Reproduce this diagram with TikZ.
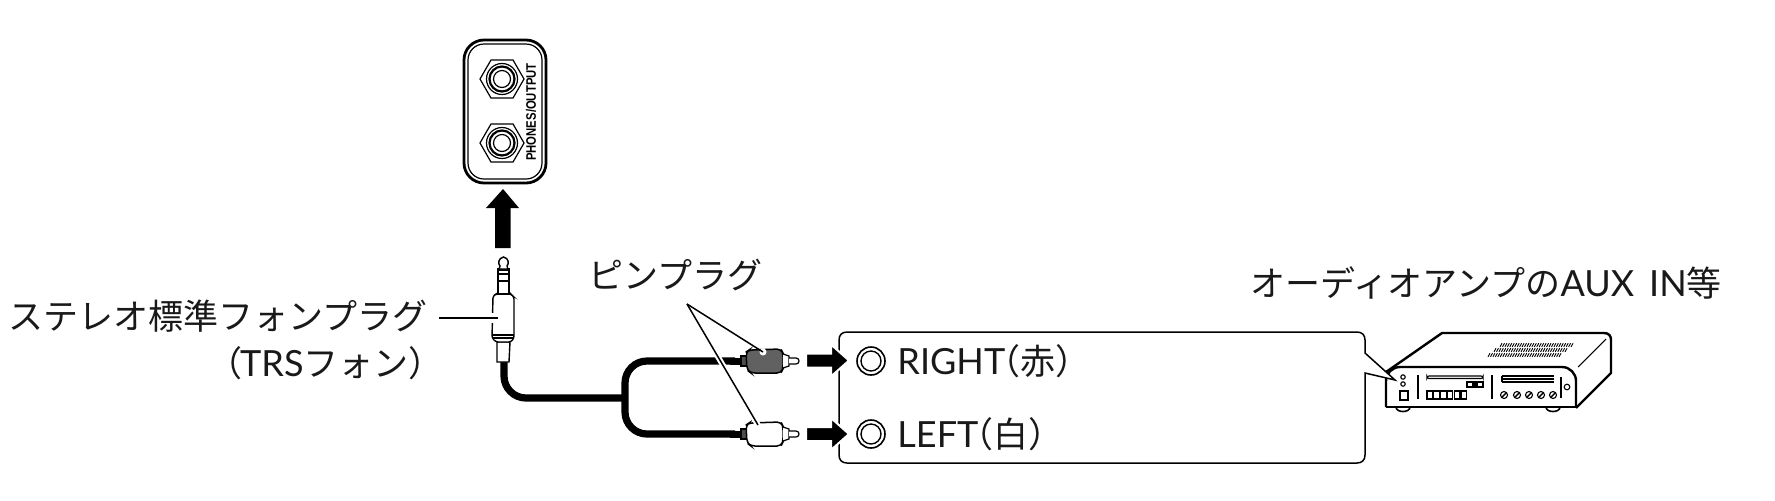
\documentclass[tikz,border=0pt]{standalone}
\usepackage{fontspec}
\setmainfont{Noto Sans CJK JP}
\newfontfamily\labelfont{Liberation Sans}
\newfontfamily\latfont{Lato}[Scale=1.03]
\usetikzlibrary{shapes.geometric}
\newcommand{\lat}[1]{{\latfont #1}}
\tikzset{
  x=0.5pt,y=-0.5pt,
  lbl/.style={font=\fontsize{17.5pt}{20pt}\selectfont,inner sep=0pt,text=black!90},
  leader/.style={line width=0.75pt},
  halo/.style={draw=white,line width=2.8pt},
  cable/.style={line width=3.6pt,rounded corners=11pt},
  bigarrow/.style={fill=black,draw=white,line width=1pt},
  thin part/.style={line width=0.6pt,fill=white},
  amp/.style={line width=1.2pt,line join=round},
  ampthin/.style={line width=0.55pt},
}
\newcommand{\rcaplug}[3]{% name, y, fill
  \coordinate (#1) at (747,#2);
  \fill[black] (730,#2-3.5) rectangle (742,#2+3.5);
  \draw[thin part,fill=black!70] (741,#2-5) rectangle (747,#2+5);
  \draw[line width=0.75pt,fill=#3,rounded corners=2pt] (746,#2-9) -- (749,#2-11) -- (781,#2-12) -- (783,#2-8) -- (783,#2+8) -- (781,#2+12) -- (751,#2+12) -- (747,#2+9) -- cycle;
  \draw[thin part] (783,#2-7) -- (789,#2-5) -- (789,#2+5) -- (783,#2+7);
  \draw[thin part] (789,#2-3) -- (796,#2-3) .. controls (800,#2-3) and (800,#2+3) .. (796,#2+3) -- (789,#2+3);
}
\newcommand{\jack}[2]{% name, y
  \node[regular polygon,regular polygon sides=6,draw,line width=0.6pt,minimum size=22pt,inner sep=0pt] (#1) at (502,#2) {};
  \draw[line width=0.6pt] (502,#2) circle (15.5);
  \draw[line width=1.1pt] (502,#2) circle (12.5);
  \draw[line width=0.6pt] (502,#2) circle (8.5);
}
\begin{document}
\begin{tikzpicture}
\useasboundingbox (0,0) rectangle (1775,500);
% phones panel
\draw[line width=1.4pt,rounded corners=10pt] (464,40) rectangle (546,183);
\draw[line width=0.6pt,rounded corners=8pt] (468,44) rectangle (542,179);
\jack{jackA}{79}
\jack{jackB}{143}
\node[rotate=90,inner sep=0pt,xscale=0.82,font=\fontsize{6.9pt}{7pt}\selectfont] (phlabel) at (531,112) {\labelfont\bfseries PHONES/OUTPUT};
% up arrow
\fill[black] (495,248) -- (495,208) -- (486,208) -- (503,189) -- (519,208) -- (510.5,208) -- (510.5,248) -- cycle;
% cable
\coordinate (plugend) at (504,358);
\coordinate (junction) at (625,398);
\coordinate (rtop) at (735,361);
\coordinate (lbot) at (735,434);
\draw[cable] (plugend) -- (504,398) -- (junction);
\draw[cable] (rtop) -- (625,361) -- (625,434) -- (lbot);
% 1/4 plug
\coordinate (plug) at (498,318);
\begin{scope}[line width=0.7pt]
\draw[fill=white] (497,362) -- (497,342) -- (510,342) -- (509,362) -- cycle;
\draw[fill=white,rounded corners=1.2pt] (493,296) -- (496,294) -- (511,294) -- (514,297) -- (514,338) -- (511,342) -- (496,342) -- (492,338) -- cycle;
\draw (492,335) -- (514,335); \draw[line width=1pt] (493,338) -- (513,338);
\draw[fill=white] (498,294) -- (498,269) -- (509,269) -- (509,294) -- cycle;
\draw[line width=1pt] (498,270) -- (509,270); \draw[line width=.9pt] (498,274) -- (509,274);
\draw[line width=.6pt] (498,281) -- (509,281);
\draw[fill=white] (499,269) -- (500,266) .. controls (498,264) and (498,258) .. (503.5,257) .. controls (509,258) and (509,264) .. (507,266) -- (508,269) -- cycle;
\end{scope}
\fill[white] (490,313) rectangle (495,323);
% plug label
\node[lbl,anchor=east] (stereo) at (428,316.5) {ステレオ標準フォンプラグ};
\node[lbl,anchor=east] (trs) at (444,363) {（\hspace{-1pt}\lat{TRS}フォン）\hspace{-8.5pt}};
\draw[leader] (439,318) -- (plug);
% RCA
\rcaplug{rcaR}{361}{black!62}
\rcaplug{rcaL}{434}{white}
% pin label
\node[lbl,anchor=center] (pin) at (675.5,275) {ピンプラグ};
\coordinate (apex) at (687,304);
\draw[halo] (apex) -- (758,425);
\fill[white] (763,352) circle (3.5);
\draw[leader] (apex) -- (763,352);
\draw[leader] (apex) -- (758,425);
% amp
\draw[amp,fill=white] (1386,372) -- (1442,333) -- (1604,333) .. controls (1609,333) and (1611,336) .. (1611,340) -- (1611,373) -- (1576,408);
\draw[amp,fill=white,rounded corners=7pt] (1386,407) -- (1386,367) -- (1576,367) -- (1576,407);
\draw[amp] (1386,407) -- (1576,407);
\foreach \fx in {1403,1553}{\draw[line width=.8pt] (\fx-7,407) .. controls (\fx-7,413) and (\fx+7,413) .. (\fx+7,407);}
\draw[ampthin] (1578,367) -- (1606,339);
\foreach \sx/\sy in {1500/345,1494/350,1488/355}{
  \foreach \i in {1,...,30}{\draw[line width=.45pt] ({\sx+(\i-1)*2.45},\sy+1.8) -- ({\sx+(\i-1)*2.45+2},\sy-1.8);}
}
\draw[ampthin] (1403,377) circle (2.2) (1403,384) circle (2.2);
\draw[ampthin] (1400,391) rectangle (1408,400);
\draw[line width=.9pt] (1400,391) -- (1400,400);
\draw[ampthin] (1418,375) -- (1418,399) (1492,375) -- (1492,399) (1561,377) -- (1561,398);
\draw[ampthin,rounded corners=1pt] (1427,376) rectangle (1483,378.5);
\draw[ampthin] (1467,382) rectangle (1483,387);
\fill (1472,382) rectangle (1478,387);
\foreach \i in {0,...,5}{\draw[ampthin] ({1427+\i*6.8},391) rectangle ({1432.5+\i*6.8},399);}
\draw[line width=.8pt] (1502,376) -- (1554,376) (1502,382) -- (1554,382);
\draw[ampthin] (1502,379) -- (1554,379) (1502,376) -- (1502,382);
\foreach \kx in {1504,1517,1529,1541,1553}{\draw[ampthin] (\kx,395) circle (3.5); \draw[line width=.7pt] (\kx-2.5,397.5) -- (\kx+2.5,392.5);}
\draw[ampthin] (1567,387) circle (2.8);
% callout
\draw[line width=0.75pt,fill=white]
  (847,332) -- (1357,332) .. controls (1362,332) and (1365,335) .. (1365,340) -- (1365,353) -- (1395,380) -- (1365,373) -- (1365,455) .. controls (1365,460) and (1362,463) .. (1357,463) -- (847,463) .. controls (842,463) and (839,460) .. (839,455) -- (839,340) .. controls (839,335) and (842,332) .. (847,332) -- cycle;
% big arrows
\coordinate (arR) at (806,360.5);
\coordinate (arL) at (806,434);
\foreach \c in {arR,arL}{
  \draw[bigarrow] (\c) ++(0,-7) -- ++(25,0) -- ++(0,-9) -- ++(18,16) -- ++(-18,16) -- ++(0,-9) -- ++(-25,0) -- cycle;
}
\node[circle,draw,line width=0.8pt,minimum size=14pt,inner sep=0pt] (inR) at (871,361) {};
\draw[line width=0.7pt] (inR) circle (10);
\node[circle,draw,line width=0.8pt,minimum size=14pt,inner sep=0pt] (inL) at (871,434) {};
\draw[line width=0.7pt] (inL) circle (10);
\node[lbl,anchor=west] (rlbl) at (897,361) {\lat{RIGHT}\hspace{-10pt}（赤）};
\node[lbl,anchor=west] (llbl) at (897,434) {\lat{LEFT}\hspace{-10pt}（白）};
\node[lbl,anchor=west] (amplbl) at (1250,283) {オーディオアンプの\lat{AUX\hspace{7.5pt}IN}等};
\end{tikzpicture}
\end{document}
